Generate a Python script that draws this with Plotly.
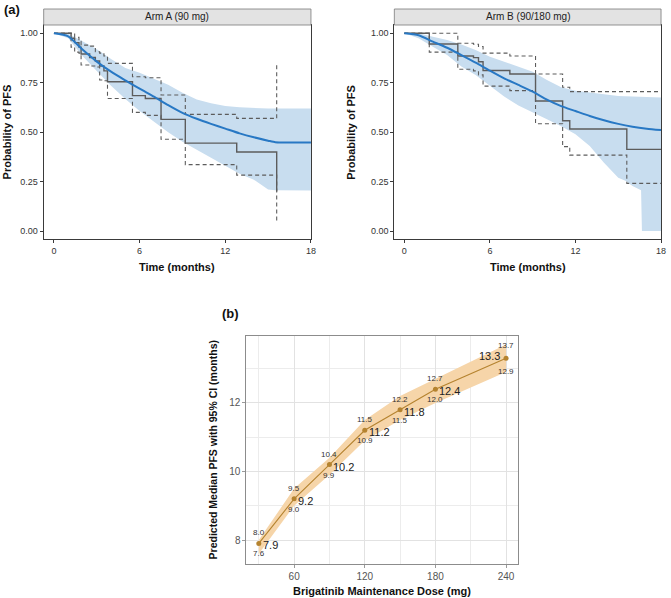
import plotly.graph_objects as go

# ---------------- data: panel (a) Arm A ----------------
arm_a_km_time = [0, 1.2, 1.45, 1.75, 1.9, 2.5, 2.9, 3.2, 3.5, 3.75, 5.5, 6.4, 7.5, 9.2, 12.8, 15.6]
arm_a_km_surv = [1.0, 0.975, 0.953, 0.93, 0.895, 0.878, 0.86, 0.835, 0.81, 0.755, 0.685, 0.67, 0.565, 0.445, 0.40, 0.20]
arm_a_km_upper = [1.0, 1.0, 0.98, 0.96, 0.94, 0.935, 0.907, 0.90, 0.885, 0.848, 0.78, 0.775, 0.688, 0.59, 0.57, 0.84]
arm_a_km_lower = [1.0, 0.93, 0.905, 0.90, 0.84, 0.835, 0.83, 0.764, 0.76, 0.67, 0.60, 0.585, 0.464, 0.336, 0.283, 0.047]

arm_a_pred_time = [0, 1, 2, 3, 4, 5, 6, 7, 8, 9, 10, 11, 12, 13, 14, 15, 15.5, 16, 17, 18]
arm_a_pred = [1.0, 0.985, 0.918, 0.857, 0.806, 0.762, 0.72, 0.68, 0.637, 0.598, 0.568, 0.542, 0.518, 0.494, 0.474, 0.457, 0.449, 0.448, 0.448, 0.448]
arm_a_pi_upper = [1.0, 0.998, 0.96, 0.92, 0.87, 0.825, 0.80, 0.772, 0.74, 0.70, 0.665, 0.646, 0.633, 0.626, 0.622, 0.62, 0.62, 0.62, 0.62, 0.62]
arm_a_pi_lower = [1.0, 0.975, 0.885, 0.81, 0.735, 0.668, 0.607, 0.555, 0.50, 0.452, 0.41, 0.37, 0.33, 0.29, 0.26, 0.21, 0.206, 0.205, 0.205, 0.205]

# ---------------- data: panel (a) Arm B ----------------
arm_b_km_time = [0, 1.75, 3.75, 4.85, 5.2, 5.52, 7.4, 9.2, 11.1, 11.6, 15.6, 18]
arm_b_km_surv = [1.0, 0.946, 0.885, 0.877, 0.856, 0.812, 0.794, 0.658, 0.558, 0.516, 0.413, 0.413]
arm_b_km_upper = [1.0, 1.0, 0.95, 0.945, 0.933, 0.90, 0.885, 0.794, 0.727, 0.705, 0.705, 0.705]
arm_b_km_lower = [1.0, 0.905, 0.818, 0.81, 0.79, 0.733, 0.71, 0.543, 0.427, 0.384, 0.241, 0.241]

arm_b_pred_time = [0, 1, 2, 3, 4, 5, 6, 7, 8, 9, 10, 11, 12, 13, 14, 15, 16, 17, 18]
arm_b_pred = [1.0, 0.99, 0.958, 0.927, 0.89, 0.852, 0.811, 0.772, 0.739, 0.705, 0.665, 0.632, 0.607, 0.582, 0.56, 0.542, 0.528, 0.518, 0.511]
arm_b_pi_upper = [1.0, 1.0, 0.983, 0.966, 0.944, 0.916, 0.882, 0.857, 0.831, 0.806, 0.764, 0.727, 0.71, 0.70, 0.69, 0.683, 0.68, 0.678, 0.676]
arm_b_pi_lower_time = [0, 1, 2, 3, 4, 5, 6, 7, 8, 9, 10, 11, 12, 13, 14, 15, 15.5, 16, 16.6, 16.66, 18]
arm_b_pi_lower = [1.0, 0.975, 0.932, 0.89, 0.832, 0.789, 0.735, 0.68, 0.635, 0.60, 0.565, 0.53, 0.49, 0.43, 0.345, 0.27, 0.255, 0.228, 0.207, 0.0, 0.0]

# ---------------- data: panel (b) ----------------
dose = [30, 60, 90, 120, 150, 180, 240]
median_pfs = [7.9, 9.2, 10.2, 11.2, 11.8, 12.4, 13.3]
ci_lower = [7.6, 9.0, 9.9, 10.9, 11.5, 12.0, 12.9]
ci_upper = [8.0, 9.5, 10.4, 11.5, 12.2, 12.7, 13.7]

km_x_ticks = [0, 6, 12, 18]
km_y_ticks = [0, 0.25, 0.5, 0.75, 1.0]
km_y_ticktext = ["0.00", "0.25", "0.50", "0.75", "1.00"]
dose_ticks = [60, 120, 180, 240]
dose_minor = [30, 90, 150, 210]
pfs_ticks = [8, 10, 12]
pfs_minor = [9, 11, 13]

# ---------------- styling ----------------
W, H = 671, 598
FONT = "Liberation Sans, Arial, sans-serif"
RIBBON_BLUE = "#c8ddef"
LINE_BLUE = "#2878c4"
KM_GREY = "#5c5c5c"
RIB_ORANGE = "#f6d5a9"
LINE_ORANGE = "#b5832f"


def px_x(p):
    return p / W


def px_y(p):
    return 1 - p / H


fig = go.Figure()


def add_km_panel(xa, ya, pred_t, pred, up_t, up, lo_t, lo, km_t, km_s, km_u, km_l):
    fig.add_trace(go.Scatter(x=list(up_t) + list(lo_t)[::-1], y=list(up) + list(lo)[::-1],
                             fill="toself", fillcolor=RIBBON_BLUE, mode="lines",
                             line=dict(width=0), hoverinfo="skip", showlegend=False,
                             xaxis=xa, yaxis=ya))
    for vals in (km_u, km_l):
        fig.add_trace(go.Scatter(x=km_t, y=vals, mode="lines", line_shape="hv",
                                 line=dict(color=KM_GREY, width=1.1, dash="4px,3px"),
                                 showlegend=False, xaxis=xa, yaxis=ya))
    fig.add_trace(go.Scatter(x=km_t, y=km_s, mode="lines", line_shape="hv",
                             line=dict(color=KM_GREY, width=1.4),
                             showlegend=False, xaxis=xa, yaxis=ya))
    fig.add_trace(go.Scatter(x=pred_t, y=pred, mode="lines",
                             line=dict(color=LINE_BLUE, width=2, shape="spline", smoothing=0.6),
                             showlegend=False, xaxis=xa, yaxis=ya))


add_km_panel("x", "y", arm_a_pred_time, arm_a_pred, arm_a_pred_time, arm_a_pi_upper,
             arm_a_pred_time, arm_a_pi_lower, arm_a_km_time, arm_a_km_surv,
             arm_a_km_upper, arm_a_km_lower)
add_km_panel("x2", "y2", arm_b_pred_time, arm_b_pred, arm_b_pred_time, arm_b_pi_upper,
             arm_b_pi_lower_time, arm_b_pi_lower, arm_b_km_time, arm_b_km_surv,
             arm_b_km_upper, arm_b_km_lower)

# panel (b)
fig.add_trace(go.Scatter(x=dose + dose[::-1], y=ci_upper + ci_lower[::-1], fill="toself",
                         fillcolor=RIB_ORANGE, mode="lines", line=dict(width=0),
                         hoverinfo="skip", showlegend=False, xaxis="x3", yaxis="y3"))
fig.add_trace(go.Scatter(x=dose, y=median_pfs, mode="lines+markers",
                         line=dict(color=LINE_ORANGE, width=1.1),
                         marker=dict(color=LINE_ORANGE, size=5),
                         showlegend=False, xaxis="x3", yaxis="y3"))

annotations = []
last = len(dose) - 1
for i, (d, m, lo, up) in enumerate(zip(dose, median_pfs, ci_lower, ci_upper)):
    if i == last:
        med = dict(xanchor="right", xshift=-4, yshift=2)
        up_shift, lo_shift = 6, -7
    else:
        med = dict(xanchor="left", xshift=2, yshift=-2)
        up_shift, lo_shift = 4, -4
    annotations.append(dict(x=d, y=m, xref="x3", yref="y3", text=f"{m:.1f}", showarrow=False,
                            yanchor="middle", font=dict(size=11, color="#222", family=FONT), **med))
    annotations.append(dict(x=d, y=m, xref="x3", yref="y3", text=f"{up:.1f}", showarrow=False,
                            xanchor="center", yanchor="bottom", yshift=up_shift,
                            font=dict(size=8, color="#333", family=FONT)))
    annotations.append(dict(x=d, y=m, xref="x3", yref="y3", text=f"{lo:.1f}", showarrow=False,
                            xanchor="center", yanchor="top", yshift=lo_shift,
                            font=dict(size=8, color="#333", family=FONT)))


def paper_text(text, xp, yp, size, bold=False, angle=0, xanchor="center", color="#111"):
    annotations.append(dict(x=px_x(xp), y=px_y(yp), xref="paper", yref="paper",
                            text=f"<b>{text}</b>" if bold else text, showarrow=False,
                            xanchor=xanchor, yanchor="middle", textangle=angle,
                            font=dict(size=size, color=color, family=FONT)))


paper_text("(a)", 2, 10, 13, bold=True, xanchor="left")
paper_text("(b)", 222, 313, 13, bold=True, xanchor="left")
paper_text("Arm A (90 mg)", (44 + 313.3) / 2, 17, 10, color="#222")
paper_text("Arm B (90/180 mg)", (397.3 + 666) / 2, 17, 10, color="#222")
paper_text("Probability of PFS", 7.5, 132, 11, bold=True, angle=-90)
paper_text("Probability of PFS", 353.5, 132, 11, bold=True, angle=-90)
paper_text("Time (months)", (44 + 313.3) / 2, 266.5, 11, bold=True)
paper_text("Time (months)", (397.3 + 666) / 2, 266.5, 11, bold=True)
paper_text("Predicted Median PFS with 95% CI (months)", 215, 450, 10.5, bold=True, angle=-90)
paper_text("Brigatinib Maintenance Dose (mg)", (248.3 + 522.3) / 2, 590.5, 11, bold=True)

shapes = []
for x0, x1 in ((44, 313.3), (397.3, 666)):
    shapes.append(dict(type="rect", xref="paper", yref="paper", x0=px_x(x0), x1=px_x(x1),
                       y0=px_y(25), y1=px_y(9), fillcolor="#e3e3e3",
                       line=dict(color="#7a7a7a", width=0.8), layer="above"))

km_axis = dict(showline=True, linecolor="#3a3a3a", linewidth=1, mirror=True, ticks="outside",
               ticklen=3, tickcolor="#3a3a3a", tickwidth=1, showgrid=False, zeroline=False,
               ticklabeloverflow="allow",
               tickfont=dict(size=9, color="#333", family=FONT))

b_axis = dict(showline=True, linecolor="#8c8c8c", linewidth=1, mirror=True, ticks="outside",
              ticklen=3, tickcolor="#9a9a9a", tickwidth=1, showgrid=True, gridcolor="#e2e2e2",
              gridwidth=1, zeroline=False, tickfont=dict(size=10, color="#555", family=FONT))

fig.update_layout(
    width=W, height=H, margin=dict(l=0, r=0, t=0, b=0),
    paper_bgcolor="white", plot_bgcolor="white", showlegend=False,
    font=dict(family=FONT),
    xaxis=dict(domain=[px_x(44), px_x(313.3)], range=[-0.72, 18], tickvals=km_x_ticks,
               anchor="y", **km_axis),
    yaxis=dict(domain=[px_y(239), px_y(25)], range=[-0.04, 1.042], tickvals=km_y_ticks,
               ticktext=km_y_ticktext, anchor="x", **km_axis),
    xaxis2=dict(domain=[px_x(397.3), px_x(666)], range=[-0.7, 18], tickvals=km_x_ticks,
                anchor="y2", **km_axis),
    yaxis2=dict(domain=[px_y(239), px_y(25)], range=[-0.04, 1.042], tickvals=km_y_ticks,
                ticktext=km_y_ticktext, anchor="x2", **km_axis),
    xaxis3=dict(domain=[px_x(248.3), px_x(522.3)], range=[19.5, 250.5], tickvals=dose_ticks,
                minor=dict(tickvals=dose_minor, showgrid=True, gridcolor="#ececec", gridwidth=0.8, ticks=""),
                anchor="y3", **b_axis),
    yaxis3=dict(domain=[px_y(564), px_y(335.7)], range=[7.30, 13.96], tickvals=pfs_ticks,
                minor=dict(tickvals=pfs_minor, showgrid=True, gridcolor="#ececec", gridwidth=0.8, ticks=""),
                anchor="x3", **b_axis),
    annotations=annotations,
    shapes=shapes,
)

fig.write_html("out.html", config={"displayModeBar": False},
               post_script="document.body.style.margin='0';document.body.style.overflow='hidden';")
